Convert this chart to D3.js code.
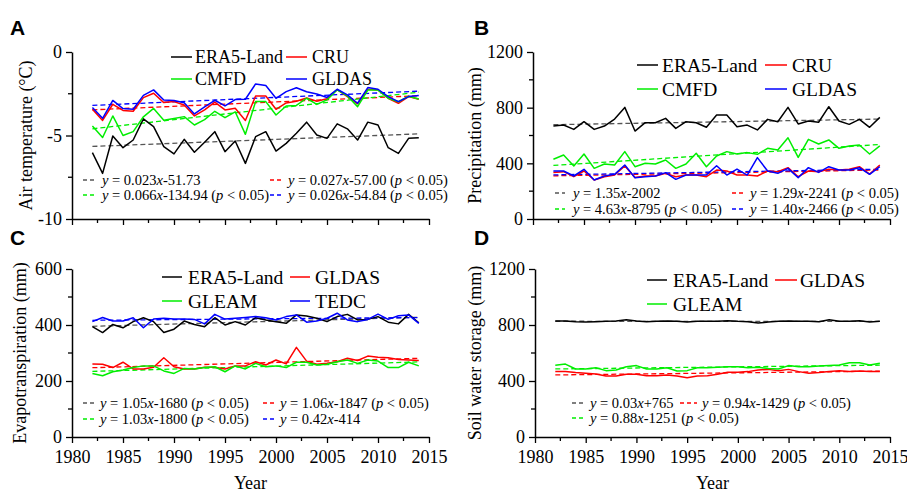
<!DOCTYPE html>
<html>
<head>
<meta charset="utf-8">
<script src="https://cdn.jsdelivr.net/npm/d3@7"></script>
<style>
  body { margin: 0; background: #fff; }
  svg { display: block; }
  svg text { font-family: "Liberation Serif", "DejaVu Serif", serif; }
  svg text.plabel { font-family: "Liberation Sans", Arial, sans-serif; font-weight: bold; }
</style>
</head>
<body>
<svg id="fig" width="907" height="492"></svg>
<script>
// ---- data (1982-2014) ----
const years = d3.range(1982, 2015);

const tempERA5  = [-6.03,-7.27,-5.03,-5.73,-5.27,-4.0,-4.47,-5.67,-6.1,-5.23,-6.0,-5.4,-4.77,-5.97,-5.33,-6.67,-5.07,-4.77,-5.93,-5.47,-4.87,-4.2,-4.97,-5.17,-4.3,-4.6,-5.27,-4.2,-4.37,-5.73,-6.07,-5.17,-5.13];
const tempCRU   = [-3.43,-4.1,-3.13,-3.5,-3.55,-2.73,-2.47,-3.03,-2.97,-3.17,-3.83,-3.47,-3.0,-3.47,-3.37,-4.1,-2.63,-2.63,-3.43,-3.05,-2.95,-2.75,-2.95,-2.8,-2.25,-2.67,-3.1,-2.23,-2.27,-2.77,-3.07,-2.67,-2.83];
const tempCMFD  = [-4.43,-5.12,-3.83,-5.0,-4.77,-3.88,-3.38,-4.08,-3.98,-3.87,-4.37,-4.05,-3.55,-3.93,-3.58,-4.93,-2.97,-2.97,-3.77,-3.23,-3.2,-2.77,-3.14,-2.87,-2.26,-2.63,-3.27,-2.28,-2.28,-2.77,-2.98,-2.65,-2.82];
const tempGLDAS = [-3.32,-3.97,-2.9,-3.39,-3.43,-2.6,-2.27,-2.87,-2.91,-3.04,-3.71,-3.28,-2.89,-3.23,-2.85,-2.83,-1.91,-2.01,-2.77,-2.37,-2.14,-2.38,-2.51,-2.72,-2.23,-2.57,-3.07,-2.13,-2.23,-2.67,-2.97,-2.67,-2.6];

const precERA5  = [668,675,644,699,644,668,718,802,632,692,692,723,651,699,692,659,747,747,663,675,640,716,699,802,683,704,695,807,704,680,716,659,730];
const precCRU   = [335,340,304,345,280,304,316,381,299,309,309,328,304,316,316,304,352,345,316,316,309,345,340,369,304,345,340,357,352,357,376,323,388];
const precCMFD  = [429,460,381,467,364,395,388,484,376,400,395,424,364,395,472,376,453,484,467,477,465,508,496,584,443,572,539,568,508,525,532,467,525];
const precGLDAS = [345,345,309,357,280,309,321,388,297,304,309,333,285,316,316,316,383,316,359,316,441,345,328,364,297,369,335,376,352,352,369,321,376];

const etERA5  = [394,373,402,390,412,426,412,373,385,414,402,394,426,400,412,400,426,418,412,406,436,432,424,412,430,438,418,420,430,410,404,438,408];
const etGLDAS = [261,260,248,267,243,243,249,283,251,243,243,249,249,243,254,254,269,257,275,261,320,271,260,263,269,281,273,289,285,283,277,275,273];
const etGLEAM = [227,219,233,239,248,254,254,236,227,245,243,248,251,233,254,243,263,251,254,248,267,267,257,260,269,275,263,275,271,248,248,267,254];
const etTEDC  = [412,427,414,414,426,390,421,424,421,421,420,404,438,421,424,427,430,426,418,430,436,410,414,424,442,418,412,420,439,420,433,436,406];

const swsERA5  = [829,829,824,821,824,826,829,838,829,824,826,829,826,821,826,826,826,831,826,824,814,821,826,829,826,826,824,838,826,826,831,821,826];
const swsGLDAS = [467,467,460,455,450,436,436,448,448,438,438,443,436,424,436,438,448,462,462,467,479,483,474,483,467,455,460,467,474,467,471,467,467];
const swsGLEAM = [512,521,486,486,495,474,479,502,510,486,486,495,471,474,495,495,498,502,502,495,498,490,486,510,502,502,507,510,514,531,531,514,526];

const tempEq = ["y = 0.023x-51.73", "y = 0.027x-57.00 (p < 0.05)", "y = 0.066x-134.94 (p < 0.05)", "y = 0.026x-54.84 (p < 0.05)"];
const precEq = ["y = 1.35x-2002", "y = 1.29x-2241 (p < 0.05)", "y = 4.63x-8795 (p < 0.05)", "y = 1.40x-2466 (p < 0.05)"];
const etEq   = ["y = 1.05x-1680 (p < 0.05)", "y = 1.06x-1847 (p < 0.05)", "y = 1.03x-1800 (p < 0.05)", "y = 0.42x-414"];
const swsEq  = ["y = 0.03x+765", "y = 0.94x-1429 (p < 0.05)", "y = 0.88x-1251 (p < 0.05)"];

const xTicks = d3.range(1980, 2016, 5);
const xMinor = d3.range(1982.5, 2015, 5);

const black = "#000", red = "#ff0000", green = "#00ee00", blue = "#0000ff";

// panel layout; legend/equation offsets are relative to the panel's axis corner
const panels = [
  { label: "A", lx: 10, ly: 35, left: 72, right: 429, top: 52, bottom: 219,
    domain: [-10, 0], yMajor: [-10, -5, 0], yMinor: [-7.5, -2.5],
    title: "Air temperature (\u00B0C)", titleX: 32, yearLabels: false, legFont: 18,
    series: [["ERA5-Land", black, tempERA5], ["CRU", red, tempCRU], ["CMFD", green, tempCMFD], ["GLDAS", blue, tempGLDAS]],
    eqs: tempEq,
    leg: { rows: [5, 27], cols: [[99, 120, 123], [214, 235, 240]] },
    eq: { rows: [128, 143], cols: [[11, 25, 30], [198, 211, 216]] } },
  { label: "B", lx: 474, ly: 35, left: 533, right: 890, top: 52, bottom: 219,
    domain: [0, 1200], yMajor: [0, 400, 800, 1200], yMinor: [200, 600, 1000],
    title: "Precipitation (mm)", titleX: 481, yearLabels: false, legFont: 19.5,
    series: [["ERA5-Land", black, precERA5], ["CRU", red, precCRU], ["CMFD", green, precCMFD], ["GLDAS", blue, precGLDAS]],
    eqs: precEq,
    leg: { rows: [13, 37], cols: [[104, 125, 129], [232, 254, 259]] },
    eq: { rows: [141, 157], cols: [[22, 32, 40], [199, 210, 217]] } },
  { label: "C", lx: 10, ly: 245, left: 72, right: 429, top: 269, bottom: 437,
    domain: [0, 600], yMajor: [0, 200, 400, 600], yMinor: [100, 300, 500],
    title: "Evapotranspiration (mm)", titleX: 26, yearLabels: true, legFont: 19.5,
    series: [["ERA5-Land", black, etERA5], ["GLDAS", red, etGLDAS], ["GLEAM", green, etGLEAM], ["TEDC", blue, etTEDC]],
    eqs: etEq,
    leg: { rows: [8, 32], cols: [[90, 110, 116], [218, 238, 243]] },
    eq: { rows: [134, 150], cols: [[11, 25, 28], [191, 205, 208]] } },
  { label: "D", lx: 474, ly: 245, left: 535, right: 890, top: 269, bottom: 437,
    domain: [0, 1200], yMajor: [0, 400, 800, 1200], yMinor: [200, 600, 1000],
    title: "Soil water storage (mm)", titleX: 481, yearLabels: true, legFont: 19.5,
    series: [["ERA5-Land", black, swsERA5], ["GLDAS", red, swsGLDAS], ["GLEAM", green, swsGLEAM]],
    eqs: swsEq,
    leg: { rows: [11, 35], cols: [[112, 132, 138], [240, 262, 265]] },
    eq: { rows: [134, 149], cols: [[37, 48, 55], [145, 162, 167]] } }
];

function fit(vals) {
  const mx = d3.mean(years), my = d3.mean(vals);
  const sxy = d3.sum(years, (x, i) => (x - mx) * (vals[i] - my));
  const sxx = d3.sum(years, x => (x - mx) * (x - mx));
  const b = sxy / sxx;
  return x => my + b * (x - mx);
}

// equation text with italic y, x, p
function eqText(sel, str) {
  str.split(/([yxp])/).filter(s => s.length).forEach(s => {
    sel.append("tspan")
      .style("font-style", /^[yxp]$/.test(s) ? "italic" : null)
      .text(s);
  });
}

const svg = d3.select("#fig");

panels.forEach(p => {
  const g = svg.append("g");
  const x = d3.scaleLinear().domain([1980, 2015]).range([p.left, p.right]);
  const y = d3.scaleLinear().domain(p.domain).range([p.bottom, p.top]);

  // panel letter
  g.append("text").attr("class", "plabel").attr("x", p.lx).attr("y", p.ly)
    .style("font-size", "21px").text(p.label);

  // x axis
  const xa = g.append("g").attr("transform", `translate(0,${p.bottom})`)
    .call(d3.axisBottom(x).tickValues(xTicks).tickSize(6).tickSizeOuter(0)
      .tickFormat(p.yearLabels ? d => String(d) : ""));
  xa.append("g").selectAll("line").data(xMinor).join("line")
    .attr("x1", x).attr("x2", x).attr("y1", 0).attr("y2", 4).attr("stroke", "#000").attr("stroke-width", 1.3);

  // y axis
  const ya = g.append("g").attr("transform", `translate(${p.left},0)`)
    .call(d3.axisLeft(y).tickValues(p.yMajor).tickSize(6).tickSizeOuter(0).tickPadding(4)
      .tickFormat(d => String(d)));
  ya.append("g").selectAll("line").data(p.yMinor).join("line")
    .attr("y1", y).attr("y2", y).attr("x1", 0).attr("x2", -4).attr("stroke", "#000").attr("stroke-width", 1.3);

  [xa, ya].forEach(a => {
    a.attr("font-family", null);
    a.select(".domain").attr("stroke-width", 1.5);
    a.selectAll(".tick line").attr("stroke-width", 1.3);
    a.selectAll("text").style("font-size", "18px").attr("fill", "#000");
  });
  xa.selectAll(".tick text").attr("dy", "0.95em");

  // y title
  g.append("text")
    .attr("transform", `translate(${p.titleX},${(p.top + p.bottom) / 2}) rotate(-90)`)
    .attr("text-anchor", "middle").style("font-size", "18px")
    .text(p.title);

  if (p.yearLabels) {
    g.append("text").attr("x", (p.left + p.right) / 2).attr("y", 489)
      .attr("text-anchor", "middle").style("font-size", "18px")
      .text("Year");
  }

  // trend lines
  p.series.forEach(([name, color, vals]) => {
    const f = fit(vals);
    g.append("line")
      .attr("x1", x(1982)).attr("x2", x(2014))
      .attr("y1", y(f(1982))).attr("y2", y(f(2014)))
      .attr("stroke", color === black ? "#555" : color)
      .attr("stroke-width", 1.3).attr("stroke-dasharray", "5,3");
  });

  // series lines
  const line = d3.line().x((d, i) => x(years[i])).y(d => y(d));
  p.series.forEach(([name, color, vals]) => {
    g.append("path").datum(vals)
      .attr("fill", "none").attr("stroke", color).attr("stroke-width", 1.5)
      .attr("stroke-linejoin", "round").attr("d", line);
  });

  // legend
  p.series.forEach(([name, color], i) => {
    const ly = p.top + p.leg.rows[Math.floor(i / 2)];
    const c = p.leg.cols[i % 2];
    g.append("line").attr("x1", p.left + c[0]).attr("x2", p.left + c[1])
      .attr("y1", ly).attr("y2", ly).attr("stroke", color).attr("stroke-width", 1.5);
    g.append("text").attr("x", p.left + c[2]).attr("y", ly).attr("dy", "0.35em")
      .style("font-size", p.legFont + "px").text(name);
  });

  // equations
  p.eqs.forEach((s, i) => {
    const ey = p.top + p.eq.rows[Math.floor(i / 2)];
    const c = p.eq.cols[i % 2];
    const color = p.series[i][1];
    g.append("line").attr("x1", p.left + c[0]).attr("x2", p.left + c[1])
      .attr("y1", ey).attr("y2", ey).attr("stroke", color === black ? "#555" : color)
      .attr("stroke-width", 1.3).attr("stroke-dasharray", "4,3");
    const t = g.append("text").attr("x", p.left + c[2]).attr("y", ey).attr("dy", "0.35em")
      .style("font-size", "14.5px");
    eqText(t, s);
  });
});
</script>
</body>
</html>
